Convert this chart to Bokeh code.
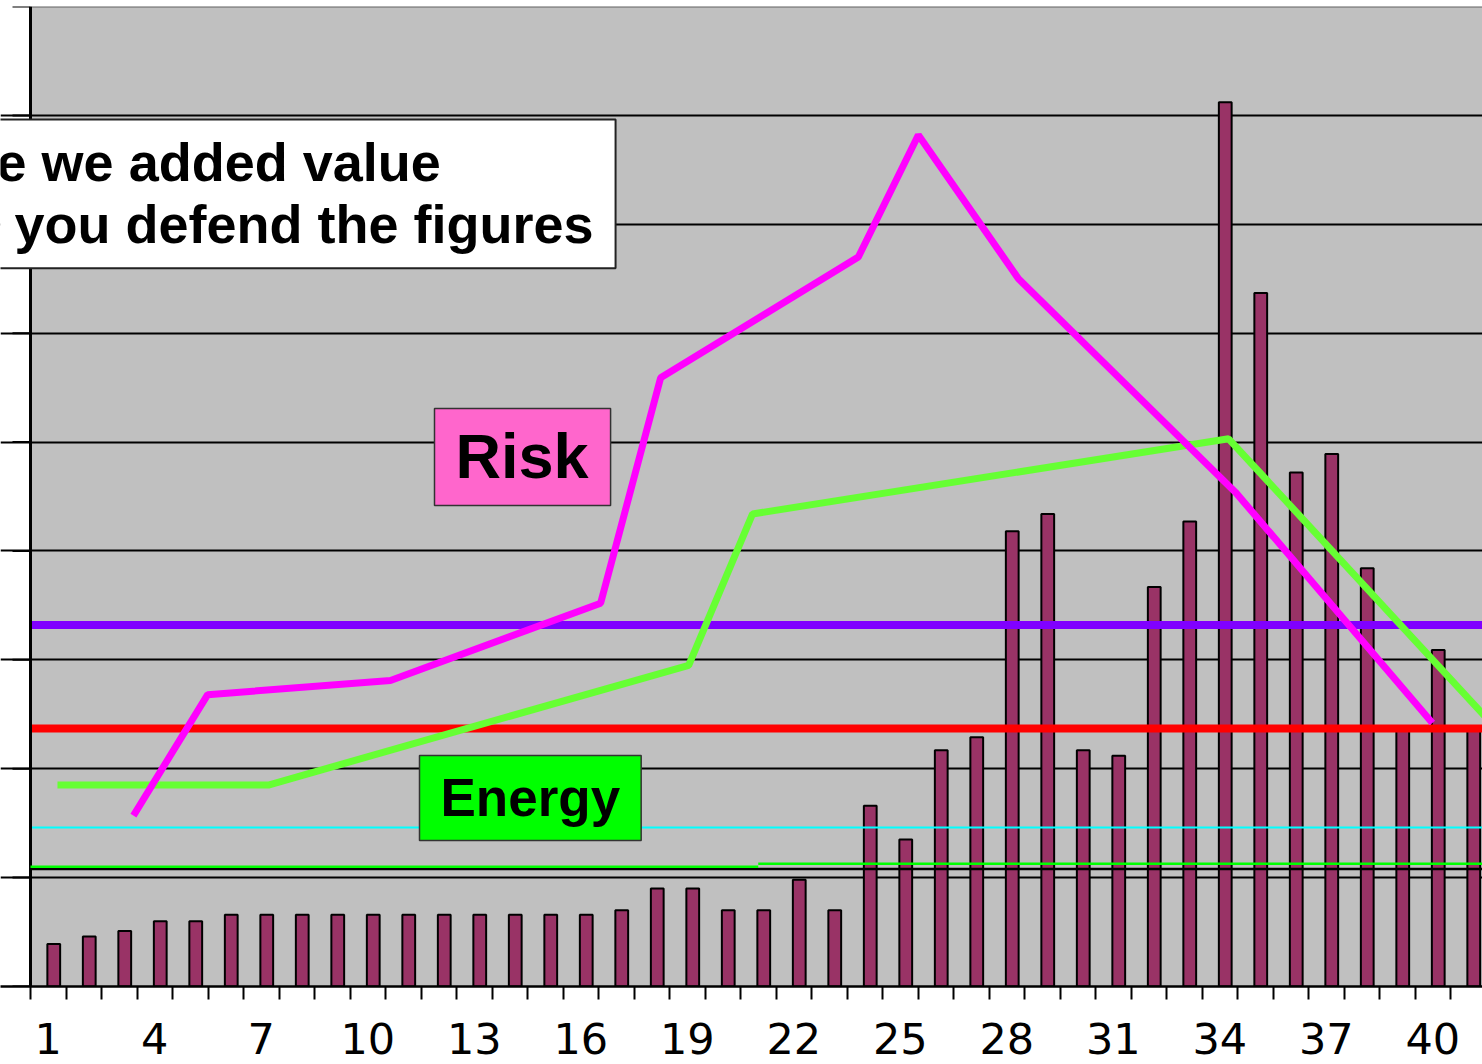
from bokeh.plotting import figure
from bokeh.models import Range1d, FixedTicker, Label, ColumnDataSource, BoxAnnotation
from bokeh.transform import dodge
from bokeh.embed import file_html
from bokeh.resources import INLINE

# ---------------- data ----------------
categories = list(range(1, 42))
bar_values = [0.39, 0.46, 0.51, 0.60, 0.60, 0.66, 0.66, 0.66, 0.66, 0.66,
              0.66, 0.66, 0.66, 0.66, 0.66, 0.66, 0.70, 0.90, 0.90, 0.70,
              0.70, 0.98, 0.70, 1.66, 1.35, 2.17, 2.29, 4.18, 4.34, 2.17,
              2.12, 3.67, 4.27, 8.12, 6.37, 4.72, 4.89, 3.84, 2.36, 3.09,
              2.36]
x_tick_labels = [1, 4, 7, 10, 13, 16, 19, 22, 25, 28, 31, 34, 37, 40]
y_ticks = list(range(0, 10))

risk_x = [3.40, 5.49, 10.64, 16.56, 18.25, 23.82, 25.51, 28.33, 34.44, 39.99]
risk_y = [1.57, 2.68, 2.81, 3.52, 5.59, 6.70, 7.82, 6.50, 4.54, 2.42]

energy_x = [1.26, 7.20, 19.04, 20.84, 34.25, 41.50]
energy_y = [1.85, 1.85, 2.95, 4.34, 5.03, 2.47]

level_values = [3.32, 2.37, 1.46, 1.08]
level_colors = ["#8000FF", "#FF0000", "#00FFFF", "#000000"]
level_widths = [8, 8, 2, 2.5]

green_ref_x0 = [0.5, 21.0]
green_ref_x1 = [21.0, 41.5]
green_ref_y = [1.10, 1.127]

# ---------------- layout helpers ----------------
W, H = 1482, 1064
AXIS_PX = 30                 # pixel column of the value axis
PX_PER_X = 35.5              # pixels per category
X_AXIS = 0.5                 # data x of the value axis
X_LEFT = X_AXIS - AXIS_PX / PX_PER_X
X_RIGHT = X_LEFT + W / PX_PER_X
Y0, Y1 = 0, 9
FRAME_T, FRAME_B = 6, 986
PX_PER_Y = (FRAME_B - FRAME_T) / (Y1 - Y0)


def sx(px):
    return X_LEFT + px / PX_PER_X


def sy(py):
    return (FRAME_B - py) / PX_PER_Y


p = figure(width=W, height=H, x_range=Range1d(X_LEFT, X_RIGHT), y_range=Range1d(Y0, Y1),
           output_backend="svg", toolbar_location=None,
           min_border_left=0, min_border_right=0, min_border_top=FRAME_T,
           min_border_bottom=H - FRAME_B,
           background_fill_color="white", border_fill_color="white",
           outline_line_color=None)

# grey plot area right of the value axis
p.add_layout(BoxAnnotation(left=X_AXIS, right=X_RIGHT + 1, bottom=Y0 - 1, top=Y1 + 1,
                           fill_color="#C0C0C0", fill_alpha=1.0, line_color=None,
                           level="image"))

# x axis
p.xaxis.ticker = FixedTicker(ticks=x_tick_labels,
                             minor_ticks=[c - 0.5 for c in categories] + [41.5])
p.xaxis.major_tick_out = 0
p.xaxis.major_tick_in = 0
p.xaxis.minor_tick_out = 13
p.xaxis.minor_tick_in = 0
p.xaxis.minor_tick_line_width = 2
p.xaxis.minor_tick_line_color = "black"
p.xaxis.axis_line_width = 2.5
p.xaxis.axis_line_color = "black"
p.xaxis.major_label_text_font = "DejaVu Sans"
p.xaxis.major_label_text_font_size = "43px"
p.xaxis.major_label_text_line_height = 1.0
p.xaxis.major_label_text_color = "black"
p.xaxis.major_label_standoff = 23

# value axis is drawn by hand so that the note box may cover it
p.yaxis.visible = False

p.xgrid.visible = False
p.ygrid.ticker = FixedTicker(ticks=list(range(1, 9)))
p.ygrid.bounds = (X_AXIS, X_RIGHT + 1)
p.ygrid.grid_line_color = "black"
p.ygrid.grid_line_width = 2

# top border of plot area
p.segment(x0=[X_AXIS], y0=[Y1], x1=[X_RIGHT + 1], y1=[Y1],
          line_color="#808080", line_width=2.5)

# bars
src = ColumnDataSource(dict(cat=categories, val=bar_values))
p.vbar(x=dodge("cat", 0.155, range=p.x_range), top="val", width=0.36, source=src,
       fill_color="#993366", line_color="black", line_width=2)

# horizontal level lines
n_lv = len(level_values)
p.segment(x0=[X_AXIS] * n_lv, y0=level_values, x1=[X_RIGHT + 1] * n_lv, y1=level_values,
          line_color=level_colors, line_width=level_widths)

# value axis and its ticks
p.segment(x0=[sx(12)] * len(y_ticks), y0=y_ticks, x1=[X_AXIS] * len(y_ticks), y1=y_ticks,
          line_color="black", line_width=2)
p.vspan(x=[X_AXIS], line_color="black", line_width=3)

p.segment(x0=green_ref_x0, y0=green_ref_y, x1=green_ref_x1, y1=green_ref_y,
          line_color="#00FF00", line_width=2.5)

# energy and risk lines
p.line(energy_x, energy_y, line_color="#66FF33", line_width=7)
p.line(risk_x, risk_y, line_color="#FF00FF", line_width=7)

# text boxes (padding order: left, right, top, bottom)
box_note = Label(x=sx(-123), y=sy(119), anchor="top_left",
                 text="Have we added value\nCan you defend the figures",
                 text_font="Liberation Sans", text_font_style="bold", text_font_size="54px",
                 text_line_height=1.045,
                 text_color="black", background_fill_color="white",
                 border_line_color="#222222", border_line_width=2,
                 padding=(20, 22, 12, 14))
box_risk = Label(x=sx(434), y=sy(408), anchor="top_left", text="Risk",
                 text_font="Liberation Sans", text_font_style="bold", text_font_size="63px",
                 text_color="black", background_fill_color="#FF66CC",
                 border_line_color="#333333", border_line_width=1.5,
                 padding=(21, 22, 12, 15))
box_energy = Label(x=sx(419), y=sy(755), anchor="top_left", text="Energy",
                   text_font="Liberation Sans", text_font_style="bold", text_font_size="53px",
                   text_color="black", background_fill_color="#00FF00",
                   border_line_color="#333333", border_line_width=1.5,
                   padding=(21, 21, 12, 14))
for lab in (box_note, box_risk, box_energy):
    p.add_layout(lab)

open("out.html", "w").write(file_html(p, INLINE))
